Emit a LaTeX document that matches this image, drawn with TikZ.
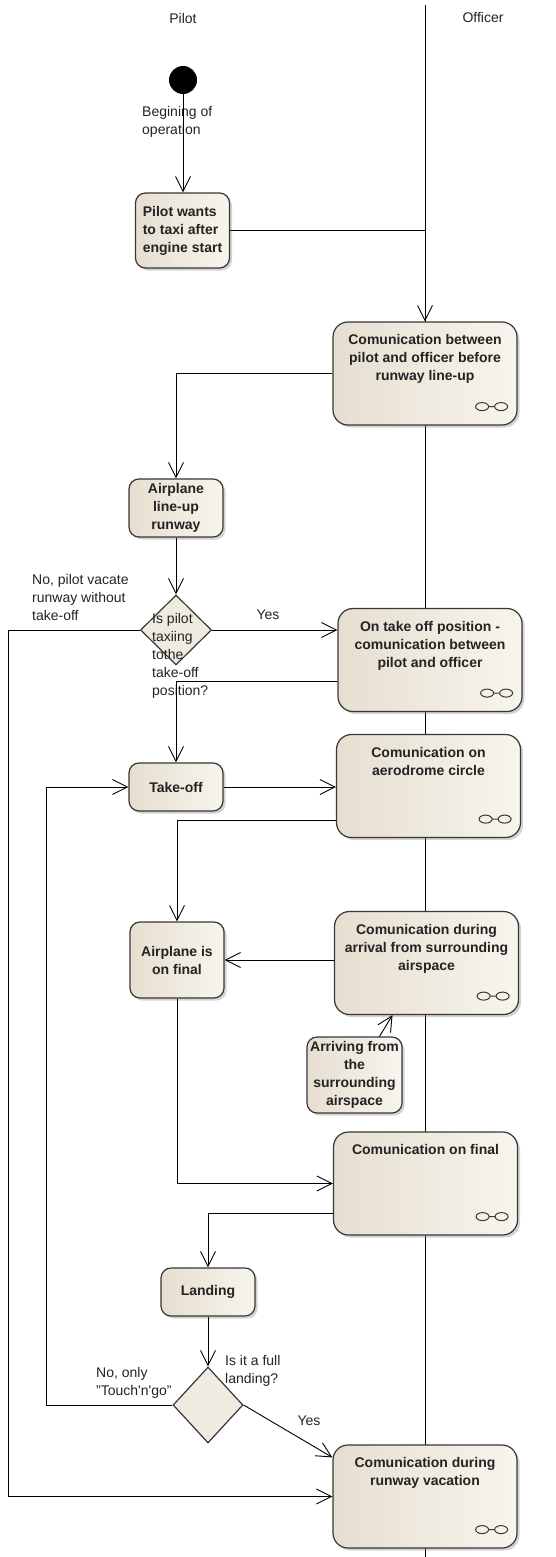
\documentclass[tikz,border=0pt]{standalone}
\usepackage{fontspec}
\setmainfont{Liberation Sans}
\usetikzlibrary{positioning,shapes.geometric,shadows,arrows.meta}
\definecolor{boxl}{RGB}{230,222,208}
\definecolor{boxr}{RGB}{248,245,238}
\definecolor{edge}{RGB}{55,55,55}
\definecolor{ink}{RGB}{35,35,35}
\begin{document}
\begin{tikzpicture}[x=1pt,y=-1pt,
  every node/.style={font=\fontsize{14}{18}\selectfont, text=ink},
  act/.style={draw=edge, line width=1.2pt, left color=boxl, right color=boxr,
    drop shadow={shadow xshift=2.5pt,shadow yshift=-2.5pt,opacity=0.35},
    inner sep=0pt, font=\fontsize{14}{18}\selectfont\bfseries, align=center},
  small/.style={act, rounded corners=10pt, minimum width=94pt},
  comm/.style={act, rounded corners=15pt, minimum width=184pt, minimum height=103pt},
  commtxt/.style={inner sep=0pt, font=\fontsize{14}{18}\selectfont\bfseries, align=center},
  decision/.style={diamond, draw=edge, line width=1.2pt, fill=boxr!55!boxl,
    inner sep=0pt, minimum width=71pt, minimum height=70pt},
  lbl/.style={inner sep=0pt, align=left, anchor=north west},
  flow/.style={draw, line width=0.9pt, -{Straight Barb[length=15pt,width=15pt]}},
  icon/.style={draw=edge, line width=1pt}]
\useasboundingbox (0,0) rectangle (555,1557);

% swimlanes
\coordinate (lanetop) at (425,5);
\coordinate (lanebot) at (425,1557);
\draw[line width=0.8pt] (lanetop) -- (lanebot);
\node (pilot) at (183,18) {Pilot};
\node (officer) at (483,17) {Officer};

% pilot lane
\node[circle, fill=black, minimum size=28pt, inner sep=0pt] (start) at (183,80) {};
\node[lbl] (begin) at (142,106) {Begining of\\operation};
\node[small, minimum height=75pt, align=left] (taxi) at (182.5,230.5) {Pilot wants\\to taxi after\\engine start};
\node[small, minimum height=58pt] (lineup) at (176,508) {Airplane\\line-up\\runway};
\node[decision] (dec1) at (176,630) {};
\node[lbl] (dec1t) at (152,613) {Is pilot\\taxiing\\tothe\\take-off\\position?};
\node[lbl] (nolbl) at (32,574) {No, pilot vacate\\runway without\\take-off};
\node (yes1) at (268,615) {Yes};
\node[small, minimum height=48pt] (takeoff) at (176,787) {Take-off};
\node[small, minimum height=76pt] (final) at (177,960) {Airplane is\\on final};
\node[small, minimum width=95pt, minimum height=76pt] (arriving) at (354.5,1075) {Arriving from\\the\\surrounding\\airspace};
\node[small, minimum height=48pt] (landing) at (208,1292) {Landing};
\node[decision, minimum width=70pt, minimum height=76pt] (dec2) at (208,1405) {};
\node[lbl] (dec2t) at (225,1355) {Is it a full\\landing?};
\node[lbl] (tglbl) at (96,1367) {No, only\\"Touch\textquotesingle n\textquotesingle go"};
\node (yes2) at (309,1421) {Yes};

% officer lane
\node[comm] (c1) at (425,373.5) {};
\node[commtxt, below=13pt of c1.north] (c1t) {Comunication between\\pilot and officer before\\runway line-up};
\node[comm] (c2) at (430,660) {};
\node[commtxt, below=13pt of c2.north] (c2t) {On take off position -\\comunication between\\pilot and officer};
\node[comm] (c3) at (428.5,786) {};
\node[commtxt, below=13pt of c3.north] (c3t) {Comunication on\\aerodrome circle};
\node[comm] (c4) at (426.5,963) {};
\node[commtxt, below=13pt of c4.north] (c4t) {Comunication during\\arrival from surrounding\\airspace};
\node[comm] (c5) at (425.5,1183.5) {};
\node[commtxt, below=13pt of c5.north] (c5t) {Comunication on final};
\node[comm] (c6) at (425,1496.5) {};
\node[commtxt, below=13pt of c6.north] (c6t) {Comunication during\\runway vacation};

\foreach \b in {c1,c2,c3,c4,c5,c6}{
  \draw[icon] ([xshift=-35.5pt,yshift=19pt]\b.south east) ellipse [x radius=6.5pt,y radius=4pt]
    ++(6.5pt,0pt) -- ++(6pt,0pt) ++(6.5pt,0pt) ellipse [x radius=6.5pt,y radius=4pt];
}

% flows
\draw[flow] (start) -- (start |- taxi.north);
\draw[flow] (taxi.east) -| (c1.north);
\draw[flow] (c1.west) -| (lineup.north);
\draw[flow] (lineup) -- (dec1);
\draw[flow] (dec1.east) -- (dec1.east -| c2.west);
\coordinate (vacate) at (8,1496.5);
\draw[flow] (dec1.west) -| (vacate) -- (c6.west);
\draw[flow] ([yshift=-21pt]c2.west) -| (takeoff.north);
\draw[flow] (takeoff.east) -- (takeoff.east -| c3.west);
\draw[flow] ([yshift=-34pt]c3.west) -| (final.north);
\draw[flow] (c4.west |- final.east) -- (final.east);
\draw[flow] ([xshift=25pt]arriving.north) -- ([xshift=-34pt]c4.south);
\draw[flow] (final.south) |- (c5.west);
\draw[flow] ([yshift=-30pt]c5.west) -| (landing.north);
\draw[flow] (landing) -- (dec2);
\coordinate (touchgo) at (46,1405);
\draw[flow] (dec2.west) -- (touchgo) |- (takeoff.west);
\draw[flow] (dec2.east) -- ([yshift=-13pt]c6.north west);
\end{tikzpicture}
\end{document}
